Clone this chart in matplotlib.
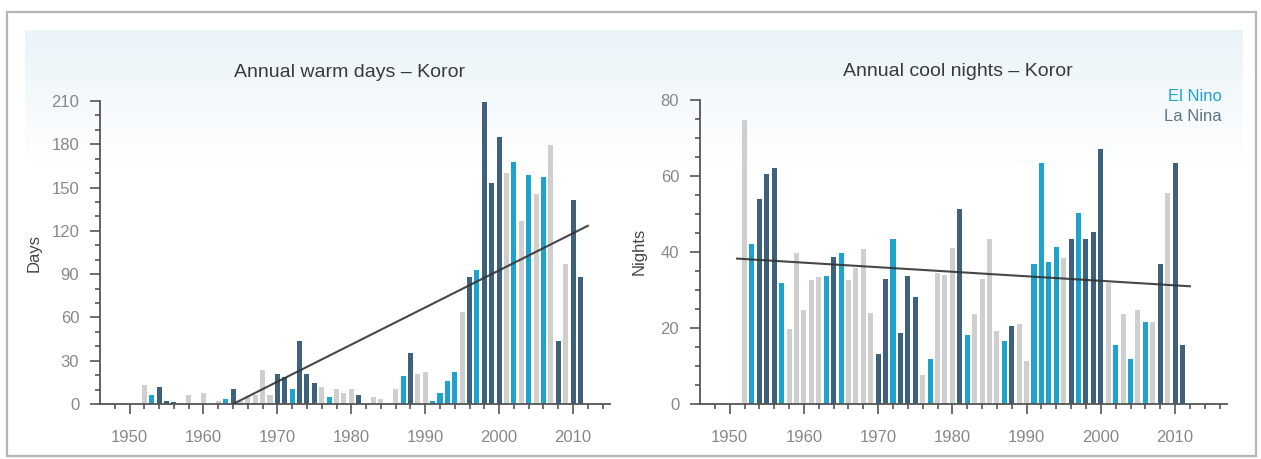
import matplotlib.pyplot as plt
import numpy as np
from matplotlib.patches import Rectangle

plt.rcParams['font.family'] = ['Liberation Sans', 'DejaVu Sans']

# E = El Nino year, L = La Nina year, N = neutral
warm_years = list(range(1952, 2012))
warm_days = [13.4, 6.5, 12, 2, 1.5, 0, 6.5, 0, 7.9, 0,
             2.3, 3.7, 10.4, 2, 4.6, 6.5, 23.6, 6.5, 20.8, 19,
             10.4, 43.9, 20.8, 14.3, 12, 5, 10.4, 7.5, 10.2, 6.5,
             0, 5, 3.5, 0, 10.2, 19.4, 35.3, 20.6, 22, 2.3,
             7.4, 15.7, 22, 63.8, 88.2, 92.9, 209, 153, 184.8, 160,
             168, 127, 159, 145.5, 157.5, 179.7, 43.4, 97, 141.6, 88.2]
warm_enso = list("NELLLNNNNN"
                 "NELNNNNNLL"
                 "ELLLNENNNL"
                 "NNNNNELNNE"
                 "EEENLELLLN"
                 "ENENENLNLL")

cool_years = list(range(1952, 2012))
cool_nights = [74.6, 42, 54, 60.5, 62, 31.7, 19.7, 39.6, 24.6, 32.5,
               33.4, 33.6, 38.7, 39.6, 32.5, 35.8, 40.8, 23.8, 13.1, 32.7,
               43.3, 18.6, 33.6, 28, 7.5, 11.6, 34.3, 34, 41, 51.3,
               18, 23.7, 32.7, 43.3, 19.2, 16.5, 20.5, 21, 11.2, 36.8,
               63.5, 37.4, 41.3, 38.3, 43.3, 50.3, 43.3, 45.3, 67, 31.7,
               15.4, 23.7, 11.6, 24.6, 21.5, 21.5, 36.8, 55.4, 63.3, 15.4]
cool_enso = list("NELLLENNNN"
                 "NELENNNNLL"
                 "ELLLNENNNL"
                 "ENNNNELNNE"
                 "EEENLELLLN"
                 "ENENENLNLL")

# trend lines (start/end year, value)
warm_trend_years = [1964, 2012]
warm_trend_vals = [0, 123.5]
cool_trend_years = [1951, 2012]
cool_trend_vals = [38.2, 30.9]

colors = {'E': '#1ea3cf', 'L': '#3e617c', 'N': '#cfcfcf'}
tick_col = '#888888'
axis_col = '#555555'

fig = plt.figure(figsize=(12.61, 4.59), dpi=100)

# background frame and light blue band
bg = fig.add_axes([0, 0, 1, 1], zorder=-10)
bg.set_xlim(0, 1261)
bg.set_ylim(459, 0)
bg.axis('off')
grad = np.linspace(0, 1, 200).reshape(-1, 1)
grad = np.clip(grad * 1.4, 0, 1)
top = np.array([0.915, 0.955, 0.975])
img = top[None, None, :] * (1 - grad[:, :, None]) + np.ones(3)[None, None, :] * grad[:, :, None]
bg.imshow(img, extent=[25, 1243, 220, 30], aspect='auto', zorder=0)
bg.add_patch(Rectangle((7, 12), 1249, 444, fill=False, ec='#b5b5b5', lw=1.6, zorder=1))


def style(ax, xlim, ylim, major_y, minor_y):
    ax.set_facecolor('none')
    ax.set_xlim(*xlim)
    ax.set_ylim(*ylim)
    for s in ['top', 'right']:
        ax.spines[s].set_visible(False)
    for s in ['left', 'bottom']:
        ax.spines[s].set_color(axis_col)
        ax.spines[s].set_linewidth(1.3)
    ax.set_xticks(range(1950, 2011, 10))
    ax.set_xticks(range(1948, int(xlim[1]) + 1, 2), minor=True)
    ax.set_yticks(np.arange(ylim[0], ylim[1] + 0.1, major_y))
    ax.set_yticks(np.arange(ylim[0], ylim[1] + 0.1, minor_y), minor=True)
    ax.tick_params(which='major', length=7, width=1.2, color=axis_col,
                   labelcolor=tick_col, labelsize=12, pad=8)
    ax.tick_params(axis='x', which='major', pad=12)
    ax.tick_params(which='minor', length=3.5, width=1.2, color=axis_col)


def draw(ax, years, vals, enso, ty, tv):
    ax.bar(years, vals, width=0.68, color=[colors[c] for c in enso], zorder=2)
    ax.plot(ty, tv, color='#333333', lw=1.5, zorder=3, alpha=0.9)


ax1 = fig.add_axes([100 / 1261, 1 - 404 / 459, 510 / 1261, 303 / 459])
style(ax1, (1946, 2015), (0, 210), 30, 10)
draw(ax1, warm_years, warm_days, warm_enso, warm_trend_years, warm_trend_vals)
ax1.set_ylabel('Days', fontsize=12, color='#444444', labelpad=7)
ax1.set_title('Annual warm days \u2013 Koror', fontsize=14, color='#3a3a3a', pad=17, x=0.49)

ax2 = fig.add_axes([700 / 1261, 1 - 403.5 / 459, 527 / 1261, 303.5 / 459])
style(ax2, (1946, 2017), (0, 80), 20, 5)
draw(ax2, cool_years, cool_nights, cool_enso, cool_trend_years, cool_trend_vals)
ax2.set_ylabel('Nights', fontsize=12, color='#444444', labelpad=10)
ax2.set_title('Annual cool nights \u2013 Koror', fontsize=14, color='#3a3a3a', pad=17, x=0.49)

ax2.text(0.99, 1.01, 'El Nino', transform=ax2.transAxes, ha='right', va='center',
         fontsize=12, color=colors['E'])
ax2.text(0.99, 0.945, 'La Nina', transform=ax2.transAxes, ha='right', va='center',
         fontsize=12, color='#5d7588')

fig.savefig('out.png', dpi=100)
